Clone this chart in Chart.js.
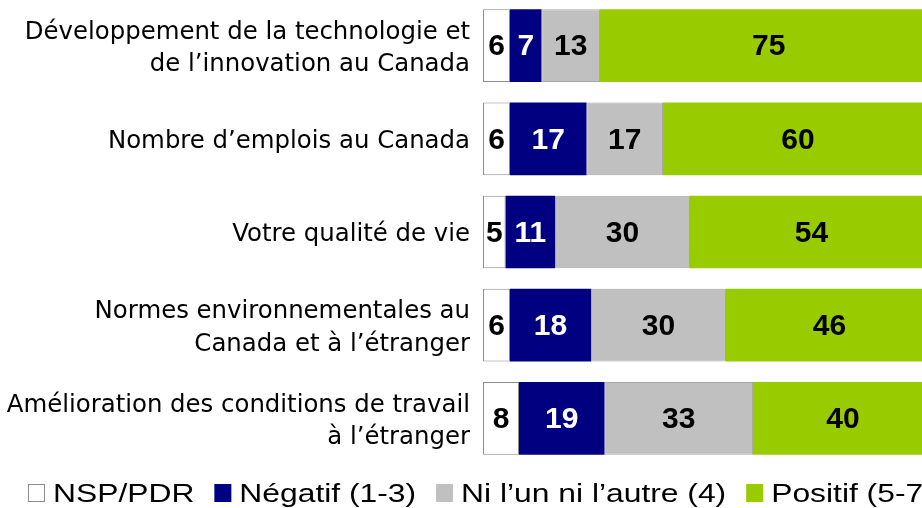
<!DOCTYPE html>
<html>
<head>
<meta charset="utf-8">
<script src="https://cdn.jsdelivr.net/npm/chart.js@4/dist/chart.umd.min.js"></script>
<style>
html,body{margin:0;padding:0;background:#fff;overflow:hidden;}
#wrap{position:absolute;left:0;top:-1px;width:940px;height:509px;}
</style>
</head>
<body>
<div id="wrap"><canvas id="c"></canvas></div>
<script>
const categories = [
  ["Développement de la technologie et", "de l’innovation au Canada"],
  "Nombre d’emplois au Canada",
  "Votre qualité de vie",
  ["Normes environnementales au", "Canada et à l’étranger"],
  ["Amélioration des conditions de travail", "à l’étranger"]
];
const seriesNames = ["NSP/PDR", "Négatif (1-3)", "Ni l’un ni l’autre (4)", "Positif (5-7)"];
const nsp = [6, 6, 5, 6, 8];
const negatif = [7, 17, 11, 18, 19];
const neutre = [13, 17, 30, 30, 33];
const positif = [75, 60, 54, 46, 40];

const colors = ["#FFFFFF", "#000080", "#C0C0C0", "#99CC00"];
const borders = ["#8C8C8C", "#000080", "#A8A8A8", "#99CC00"];
const labelColors = ["#000000", "#FFFFFF", "#000000", "#000000"];
const seriesValues = [nsp, negatif, neutre, positif];

const valueLabels = {
  id: 'valueLabels',
  afterDatasetsDraw(chart) {
    const ctx = chart.ctx;
    ctx.save();
    ctx.font = 'bold 30px "Liberation Sans", Arial, sans-serif';
    ctx.textAlign = 'center';
    ctx.textBaseline = 'middle';
    chart.data.datasets.forEach((ds, di) => {
      const meta = chart.getDatasetMeta(di);
      meta.data.forEach((el, i) => {
        const p = el.getProps(['x', 'y', 'base'], true);
        ctx.fillStyle = labelColors[di];
        ctx.fillText(String(ds.data[i]), (p.x + p.base) / 2, p.y + 1.5);
      });
    });
    ctx.restore();
  }
};

const customLegend = {
  id: 'customLegend',
  afterDraw(chart) {
    const ctx = chart.ctx;
    ctx.save();
    const sx = 1.2;
    ctx.font = '26.5px "Liberation Sans", Arial, sans-serif';
    ctx.textBaseline = 'alphabetic';
    ctx.textAlign = 'left';
    let x = 28;
    const boxW = 17, boxTop = 485, boxH = 18, baseline = 503;
    chart.data.datasets.forEach((ds, di) => {
      ctx.fillStyle = colors[di];
      ctx.fillRect(x, boxTop, boxW, boxH);
      if (di === 0) {
        ctx.strokeStyle = '#8C8C8C';
        ctx.lineWidth = 1;
        ctx.strokeRect(x + 0.5, boxTop + 0.5, boxW - 1, boxH - 1);
      }
      const tx = x + boxW + 8;
      const w = ctx.measureText(ds.label).width * sx;
      ctx.save();
      ctx.translate(tx, baseline);
      ctx.scale(sx, 1);
      ctx.fillStyle = '#000';
      ctx.fillText(ds.label, 0, 0);
      ctx.restore();
      x = tx + w + 20;
    });
    ctx.restore();
  }
};

new Chart(document.getElementById('c'), {
  type: 'bar',
  data: {
    labels: categories,
    datasets: seriesNames.map((name, i) => ({
      label: name,
      data: seriesValues[i],
      backgroundColor: colors[i],
      borderColor: borders[i],
      borderWidth: (i === 0 || i === 2) ? 1 : 0,
      borderSkipped: false,
      categoryPercentage: 1,
      barPercentage: 0.78
    }))
  },
  options: {
    indexAxis: 'y',
    responsive: true,
    maintainAspectRatio: false,
    animation: false,
    layout: { padding: { left: 0, right: 7, top: 0, bottom: 43 } },
    plugins: { legend: { display: false }, tooltip: { enabled: false } },
    scales: {
      x: { stacked: true, min: 0, max: 100, display: false },
      y: {
        stacked: true,
        grid: { display: false, drawTicks: false },
        border: { display: false },
        afterFit(scale) {
          scale.width = 483;
          scale.paddingTop = 0;
          scale.paddingBottom = 0;
        },
        ticks: {
          color: '#000',
          padding: 13,
          labelOffset: 3,
          font: { family: '"DejaVu Sans", Verdana, sans-serif', size: 24.4, lineHeight: 1.33 }
        }
      }
    }
  },
  plugins: [valueLabels, customLegend]
});
</script>
</body>
</html>
